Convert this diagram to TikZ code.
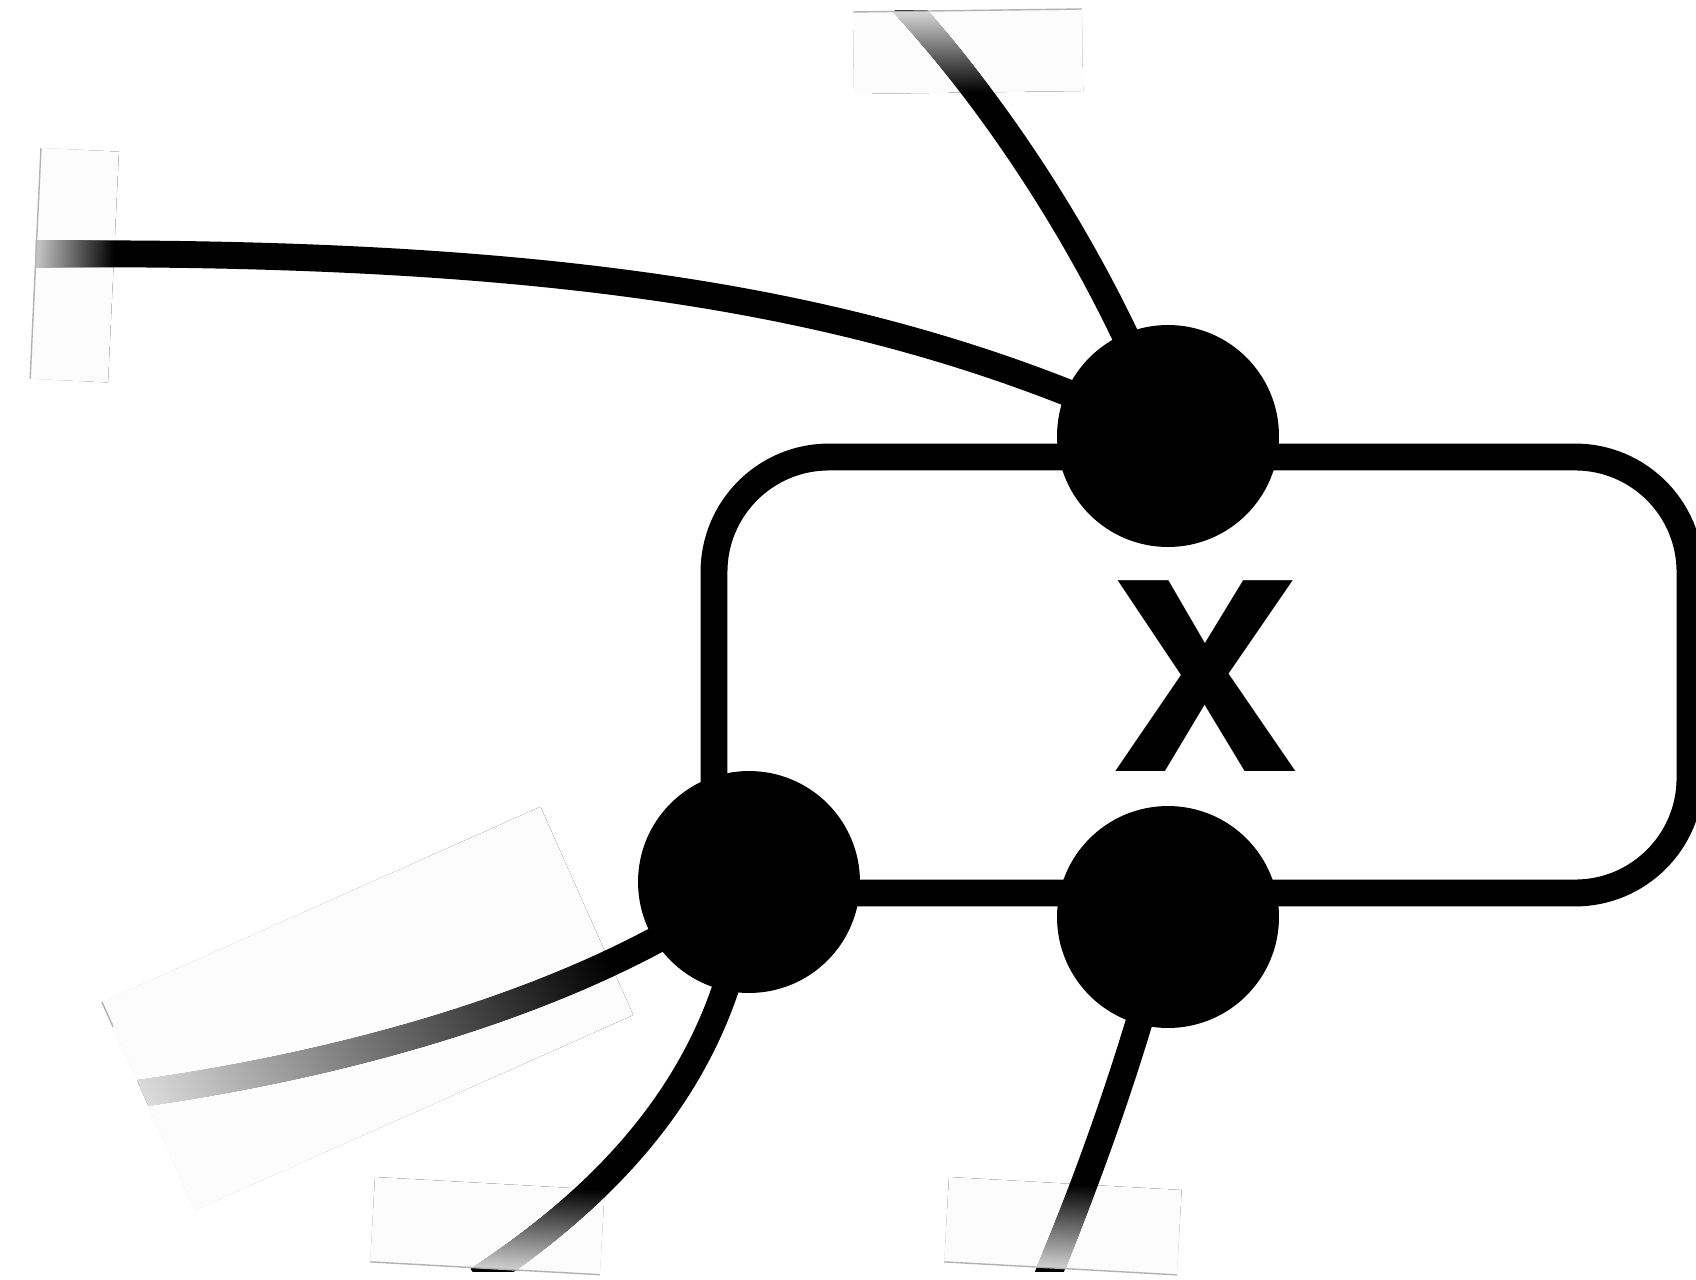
\documentclass[tikz,border=0pt]{standalone}
\usepackage{fontspec}
\newfontfamily\labelfont{texgyreheros}[Extension=.otf, UprightFont=*-bold]
\usetikzlibrary{backgrounds}

\begin{document}
\begin{tikzpicture}[x=0.02cm, y=-0.02cm, line cap=butt,
    wire/.style={line width=15.3pt},
    vertex/.style={circle, fill=black, inner sep=0pt, minimum size=4.44cm},
    tint/.style={fill=black!1},
    rim/.style={draw=black!30, line width=0.8pt},
    panelW/.style={transform canvas={shift={(41,148)}, rotate=-2.7}},
    panelN/.style={transform canvas={shift={(853,12)}, rotate=0.75}},
    panelSW/.style={transform canvas={shift={(102,1002)}, rotate=24}},
    panelS/.style={transform canvas={shift={(375,1177)}, rotate=-3.2}},
    panelSE/.style={transform canvas={shift={(949,1177)}, rotate=-3.2}}]
  \useasboundingbox (0,0) rectangle (1696,1280);

  % Vertices sitting on the frame.
  \node[vertex] (top) at (1168,436) {};
  \node[vertex] (bl) at (749,882) {};
  \node[vertex] (br) at (1168,917) {};

  % Label inside the frame.
  \node[inner sep=0pt, font=\labelfont\fontsize{149}{149}\selectfont] (lbl) at (1205,676) {\scalebox{1.09}[1]{X}};

  % Free ends of the wires, at the panel edges.
  \coordinate (endW) at (36,254);
  \coordinate (endN) at (903,3);
  \coordinate (endSW) at (135,1094);
  \coordinate (endS) at (478,1280);
  \coordinate (endSE) at (1046,1280);

  \begin{scope}[on background layer]
    % Faint panels under the fading ends.
    \begin{scope}[panelW] \fill[tint] (0,0) rectangle (78,231); \end{scope}
    \begin{scope}[panelN] \fill[tint] (0,0) rectangle (229,82); \end{scope}
    \begin{scope}[panelSW] \fill[tint] (0,0) rectangle (480,228); \end{scope}
    \begin{scope}[panelS] \fill[tint] (0,0) rectangle (230,85); \end{scope}
    \begin{scope}[panelSE] \fill[tint] (0,0) rectangle (233,85); \end{scope}

    % Frame round the label.
    \draw[wire, rounded corners=2.3cm] (714,457) rectangle (1690,893);

    % Wires, trimmed where the panels end.
    \begin{scope}
      \clip (0,11) rectangle (1696,1271);
      \draw[wire] (top.center) .. controls (900,310) and (600,250) .. (endW);
      \draw[wire] (top.center) .. controls (1110,280) and (1010,120) .. (endN);
      \draw[wire] (bl.center) .. controls (732,1030) and (660,1160) .. (endS);
      \draw[wire] (br.center) .. controls (1140,1030) and (1100,1150) .. (endSE);
      \begin{scope}
        \clip (-84,586) -- (288,1418) -- (1800,1418) -- (1800,586) -- cycle;
        \draw[wire] (bl.center) .. controls (575,1010) and (310,1070) .. (endSW);
      \end{scope}
    \end{scope}

    % Fading of the wire ends towards white.
    \begin{scope}[panelW]
      \begin{scope}[blend mode=lighten]
        \shade[left color=black!22, right color=black] (0,0) rectangle (78,231);
      \end{scope}
      \draw[rim] (0,0) -- (0,231);
    \end{scope}
    \begin{scope}[panelN]
      \begin{scope}[blend mode=lighten]
        \shade[top color=black!16, bottom color=black] (0,0) rectangle (229,82);
      \end{scope}
      \draw[rim] (0,0) -- (229,0);
    \end{scope}
    \begin{scope}[panelSW]
      \begin{scope}[blend mode=lighten]
        \shade[left color=black!14, middle color=black!55, right color=black] (0,0) rectangle (480,228);
      \end{scope}
      \draw[rim] (0,0) -- (0,27);
    \end{scope}
    \begin{scope}[panelS]
      \begin{scope}[blend mode=lighten]
        \shade[top color=black, bottom color=black!18] (0,0) rectangle (230,85);
      \end{scope}
      \draw[rim] (0,85) -- (230,85);
    \end{scope}
    \begin{scope}[panelSE]
      \begin{scope}[blend mode=lighten]
        \shade[top color=black, bottom color=black!18] (0,0) rectangle (233,85);
      \end{scope}
      \draw[rim] (0,85) -- (233,85);
    \end{scope}
  \end{scope}
\end{tikzpicture}
\end{document}
